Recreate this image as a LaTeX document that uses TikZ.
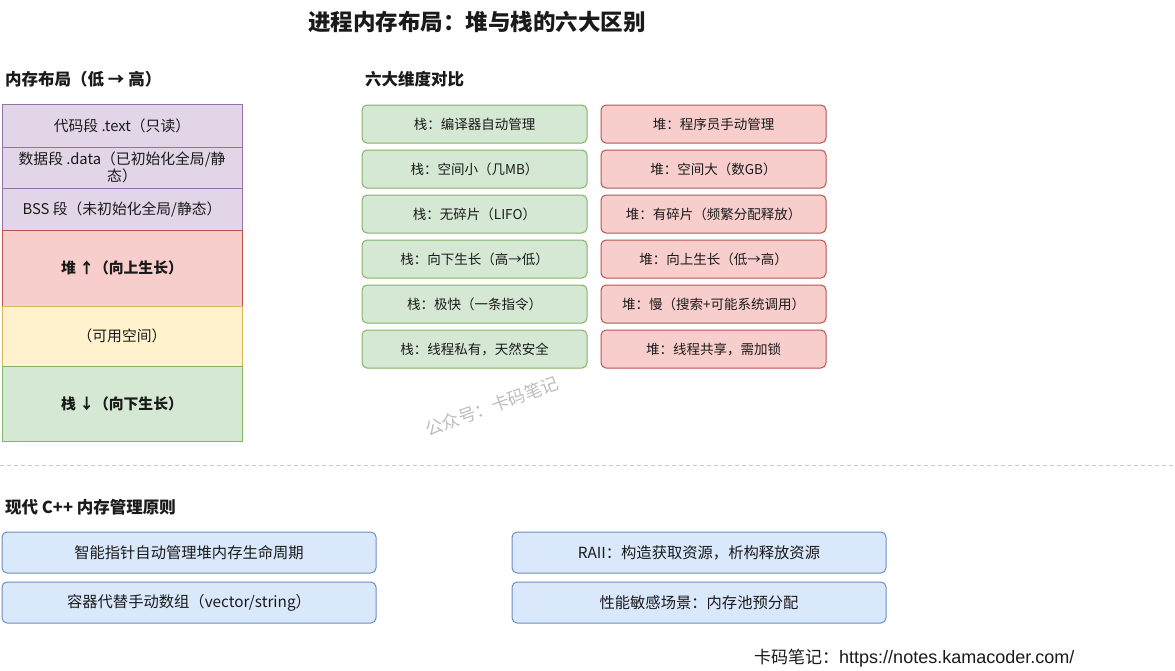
\documentclass[tikz,border=0pt]{standalone}
\usepackage{fontspec}
\setmainfont{Noto Sans CJK SC}
\newfontfamily\urlfont{Liberation Sans}
\usepackage{tikz}
\usetikzlibrary{positioning}
\definecolor{kmtext}{HTML}{1A1A1A}
\definecolor{kmpurplefill}{HTML}{E1D5E7}
\definecolor{kmpurple}{HTML}{9673A6}
\definecolor{kmredfill}{HTML}{F8CECC}
\definecolor{kmred}{HTML}{B85450}
\definecolor{kmyellowfill}{HTML}{FFF2CC}
\definecolor{kmyellow}{HTML}{D6B656}
\definecolor{kmgreenfill}{HTML}{D5E8D4}
\definecolor{kmgreen}{HTML}{82B366}
\definecolor{kmbluefill}{HTML}{DAE8FC}
\definecolor{kmblue}{HTML}{6C8EBF}
\definecolor{kmwater}{HTML}{BDBDBD}
\definecolor{kmsep}{HTML}{C8C8C8}
\tikzset{
  memseg/.style={draw,line width=1pt,outer sep=0pt,minimum width=240pt,inner sep=2pt,align=center,
    font=\fontsize{14.8}{17}\selectfont,text=kmtext},
  memcode/.style={memseg,draw=kmpurple,fill=kmpurplefill},
  memheap/.style={memseg,draw=kmred,fill=kmredfill,font=\bfseries\fontsize{14.8}{17}\selectfont},
  memfree/.style={memseg,draw=kmyellow,fill=kmyellowfill},
  memstack/.style={memseg,draw=kmgreen,fill=kmgreenfill,font=\bfseries\fontsize{14.8}{17}\selectfont},
  cmpbox/.style={line width=1pt,outer sep=0pt,rounded corners=5pt,minimum width=225pt,minimum height=38pt,
    inner sep=2pt,font=\fontsize{13.5}{16}\selectfont,text=kmtext},
  stackcmp/.style={cmpbox,draw=kmgreen,fill=kmgreenfill},
  heapcmp/.style={cmpbox,draw=kmred,fill=kmredfill},
  rulebox/.style={draw=kmblue,fill=kmbluefill,line width=1pt,outer sep=0pt,rounded corners=5pt,
    minimum width=374pt,minimum height=41pt,inner sep=2pt,font=\fontsize{15.3}{18}\selectfont,text=kmtext},
  sechead/.style={anchor=west,inner sep=0pt,font=\bfseries\fontsize{16.5}{19}\selectfont,text=kmtext},
  sepline/.style={draw=kmsep,line width=1pt,dash pattern=on 4pt off 3pt}
}
\begin{document}
\begin{tikzpicture}[x=1pt,y=-1pt,node distance=7pt]
  \useasboundingbox[fill=white] (0,0) rectangle (1175,670);
  \node[inner sep=0pt,font=\bfseries\fontsize{22.5}{26}\selectfont,text=kmtext] (title) at (477,22) {进程内存布局：堆与栈的六大区别};

  % memory layout
  \node[sechead] (layhead) at (5,79) {内存布局（低 → 高）};
  \node[memcode,minimum height=43pt,anchor=north west] (text) at (2,104) {代码段 .text（只读）};
  \node[memcode,minimum height=41pt,below=0pt of text] (data) {数据段 .data（已初始化全局/静\\态）};
  \node[memcode,minimum height=42pt,below=0pt of data] (bss) {BSS 段（未初始化全局/静态）};
  \node[memheap,minimum height=76pt,below=0pt of bss] (heap) {堆 ↑（向上生长）};
  \node[memfree,minimum height=60pt,below=0pt of heap] (free) {（可用空间）};
  \node[memstack,minimum height=75pt,below=0pt of free] (stack) {栈 ↓（向下生长）};

  % six dimensions
  \node[sechead] (cmphead) at (365,79) {六大维度对比};
  \node[stackcmp,anchor=north west] (s1) at (362,105) {栈：编译器自动管理};
  \node[stackcmp,below=of s1] (s2) {栈：空间小（几MB）};
  \node[stackcmp,below=of s2] (s3) {栈：无碎片（LIFO）};
  \node[stackcmp,below=of s3] (s4) {栈：向下生长（高→低）};
  \node[stackcmp,below=of s4] (s5) {栈：极快（一条指令）};
  \node[stackcmp,below=of s5] (s6) {栈：线程私有，天然安全};
  \node[heapcmp,right=14pt of s1] (h1) {堆：程序员手动管理};
  \node[heapcmp,right=14pt of s2] (h2) {堆：空间大（数GB）};
  \node[heapcmp,right=14pt of s3] (h3) {堆：有碎片（频繁分配释放）};
  \node[heapcmp,right=14pt of s4] (h4) {堆：向上生长（低→高）};
  \node[heapcmp,right=14pt of s5] (h5) {堆：慢（搜索+可能系统调用）};
  \node[heapcmp,right=14pt of s6] (h6) {堆：线程共享，需加锁};

  \node[rotate=20,text=kmwater,font=\fontsize{17.5}{20}\selectfont] (mark) at (492,406) {公众号：卡码笔记};

  \coordinate (sepl) at (0,465);
  \coordinate (sepr) at (1175,465);
  \draw[sepline] (sepl) -- (sepr);

  % modern C++
  \node[sechead] (rulehead) at (5,507) {现代 C++ 内存管理原则};
  \node[rulebox,anchor=north west] (smart) at (2,532) {智能指针自动管理堆内存生命周期};
  \node[rulebox,below=9pt of smart] (cont) {容器代替手动数组（vector/string）};
  \node[rulebox,anchor=north west] (raii) at (512,532) {RAII：构造获取资源，析构释放资源};
  \node[rulebox,below=9pt of raii] (pool) {性能敏感场景：内存池预分配};

  \node[inner sep=0pt,anchor=west,font=\fontsize{17}{20}\selectfont,text=kmtext] (foot) at (754,658) {卡码笔记：{\urlfont\fontsize{18}{20}\selectfont https://notes.kamacoder.com/}};
\end{tikzpicture}
\end{document}
